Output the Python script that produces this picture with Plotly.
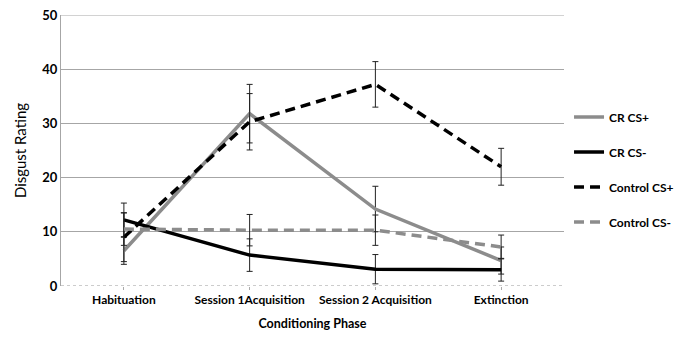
import plotly.graph_objects as go

phases = ["Habituation", "Session 1Acquisition", "Session 2 Acquisition", "Extinction"]

cr_csp = [6.5, 31.8, 14.2, 4.7]
cr_csp_err = [2.5, 5.4, 4.2, 2.5]
cr_csm = [12.2, 5.7, 3.1, 3.0]
cr_csm_err = [3.1, 3.0, 2.7, 2.1]
ctl_csp = [9.0, 30.3, 37.2, 22.0]
ctl_csp_err = [4.5, 5.2, 4.2, 3.4]
ctl_csm = [10.5, 10.3, 10.3, 7.2]
ctl_csm_err = [3.0, 2.9, 2.8, 2.2]

series = [
    ("CR CS+", cr_csp, cr_csp_err, "#8c8c8c", "solid"),
    ("CR CS-", cr_csm, cr_csm_err, "#000000", "solid"),
    ("Control CS+", ctl_csp, ctl_csp_err, "#000000", "10px,6px"),
    ("Control CS-", ctl_csm, ctl_csm_err, "#8c8c8c", "10px,6px"),
]

fig = go.Figure()
for i, (name, vals, errs, col, dash) in enumerate(series):
    fig.add_trace(go.Scatter(
        x=phases, y=vals, name=name, mode="lines",
        legendgroup=f"g{i}",
        line=dict(color=col, width=3.5, dash=dash),
        error_y=dict(type="data", array=errs, visible=True,
                     color="#222222", thickness=1, width=3),
    ))

FONT = "Lato"
# page body has an 8px margin, so the figure is offset by 8px; compensate
fig.update_layout(
    width=678, height=332,
    margin=dict(l=53, r=122, t=7, b=54, autoexpand=False),
    paper_bgcolor="white", plot_bgcolor="white",
    font=dict(family=FONT, size=11, color="#000000"),
    showlegend=True,
    legend=dict(x=1.01, y=0.677, xanchor="left", yanchor="top",
                tracegroupgap=16, traceorder="grouped",
                font=dict(size=12, family=FONT, weight="bold", color="#000000"),
                itemwidth=30, bgcolor="rgba(0,0,0,0)"),
    xaxis=dict(
        automargin=False,
        showgrid=False, zeroline=False, showline=False,
        ticks="outside", ticklen=3, tickcolor="#aaaaaa",
        tickfont=dict(size=12, weight="bold", color="#000000"),
        ticklabeloverflow="allow",
        title=dict(text="Conditioning Phase", font=dict(size=12.5, weight="bold", color="#000000"), standoff=12),
        range=[-0.5, 3.5],
    ),
    yaxis=dict(
        automargin=False,
        range=[0, 50], dtick=10,
        showgrid=True, gridcolor="#a6a6a6", gridwidth=1,
        zeroline=False,
        showline=True, linecolor="#a6a6a6", linewidth=1,
        tickfont=dict(size=13, weight="bold", color="#000000"),
        ticklabeloverflow="allow",
        ticks="",
        title=dict(text="Disgust Rating", font=dict(size=15, color="#000000"), standoff=12),
    ),
)
fig.add_hline(y=0, line=dict(color="#999999", width=1, dash="dot"), layer="below")
fig.add_hline(y=50, line=dict(color="#a6a6a6", width=1), layer="below")

fig.write_html("out.html")
